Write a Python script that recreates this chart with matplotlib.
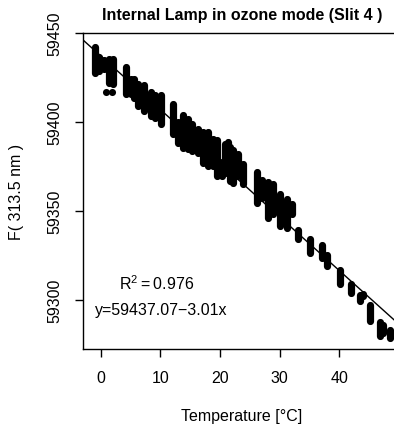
import numpy as np
import matplotlib.pyplot as plt

plt.rcParams['font.family'] = ['Liberation Sans', 'DejaVu Sans']

# each column of stacked points: temperature, highest and lowest F reading
temperature = [-1.0, -0.3, 0.5, 1.3, 2.0, 4.2, 5.0, 5.5, 6.2, 7.2, 8.4, 9.1, 10.1,
               12.1, 12.9, 13.8, 14.6, 15.3, 16.3, 17.1, 18.0, 18.8, 19.5, 20.3,
               20.8, 21.3, 21.7, 22.2, 23.0, 23.9, 26.2, 27.1, 28.1, 28.9, 30.1,
               31.3, 32.1, 33.1, 35.1, 37.1, 38.0, 40.2, 42.0, 43.5, 44.0, 45.2,
               46.9, 47.4, 48.6]
f_top = [59442.1, 59436.5, 59434.8, 59435.4, 59435.4, 59430.9, 59424.2, 59424.2,
         59421.3, 59420.8, 59416.9, 59415.2, 59415.2, 59410.1, 59400.0, 59403.9,
         59401.7, 59398.9, 59396.1, 59394.4, 59394.4, 59390.4, 59389.9, 59377.5,
         59387.6, 59388.8, 59386.0, 59384.3, 59382.0, 59376.4, 59371.9, 59367.4,
         59366.3, 59365.2, 59359.6, 59356.7, 59353.9, 59339.3, 59334.3, 59330.9,
         59325.3, 59316.9, 59309.0, 59302.8, 59303.4, 59297.2, 59287.6, 59285.9,
         59283.1]
f_bottom = [59427.5, 59428.7, 59429.8, 59421.9, 59421.3, 59415.7, 59415.7, 59413.5,
            59409.0, 59406.2, 59403.4, 59402.2, 59398.9, 59393.3, 59388.2, 59385.4,
            59384.8, 59383.7, 59382.6, 59377.0, 59375.3, 59375.3, 59369.7, 59369.7,
            59371.3, 59371.3, 59366.9, 59365.7, 59369.7, 59365.2, 59354.5, 59357.3,
            59346.1, 59348.3, 59341.6, 59340.4, 59348.3, 59334.3, 59326.4, 59323.6,
            59319.1, 59309.0, 59303.9, 59299.4, 59302.2, 59288.2, 59279.8, 59281.5,
            59278.7]
# a few loose points
single_t = [0.9, 1.8]
single_f = [59416.9, 59416.9]

intercept = 59437.07
slope = -3.01
r_squared = 0.976

fig = plt.figure(figsize=(3.94, 4.27), dpi=100)
# plot region runs slightly past the right edge of the image
ax = fig.add_axes([83/394, 1 - 350/427, (401 - 83)/394, (350 - 34)/427])

ax.vlines(temperature, f_bottom, f_top, colors='black', linewidth=5.2, capstyle='round')
ax.scatter(single_t, single_f, s=26, c='black', linewidths=0)

xs = np.array([-5.0, 55.0])
ax.plot(xs, intercept + slope * xs, color='black', lw=1.0)

ax.set_xlim(-3.0, 50.4)
ax.set_ylim(59272.5, 59450)
ax.set_xticks([0, 10, 20, 30, 40])
ax.set_yticks([59300, 59350, 59400, 59450])
ax.spines['right'].set_visible(False)
for s in ['left', 'bottom', 'top']:
    ax.spines[s].set_linewidth(1.0)
ax.tick_params(axis='both', direction='out', length=6, width=1.0, labelsize=11.5, pad=9)
ax.tick_params(axis='y', labelrotation=90)
for lab in ax.get_yticklabels():
    lab.set_va('center')

ax.set_title('Internal Lamp in ozone mode (Slit 4 )', fontsize=11.5, fontweight='bold', pad=10)
ax.set_xlabel('Temperature [°C]', fontsize=11.5, labelpad=17)
ax.set_ylabel('F( 313.5 nm )', fontsize=11.5, labelpad=17)

ax.text(9.4, 59309.5, r'$\mathregular{R^2 = %.3f}$' % r_squared, fontsize=11.5, ha='center', va='center')
ax.text(10.1, 59294.9, 'y=%.2f\u2212%.2fx' % (intercept, -slope), fontsize=11.5, ha='center', va='center')

fig.savefig('out.png', dpi=100)
